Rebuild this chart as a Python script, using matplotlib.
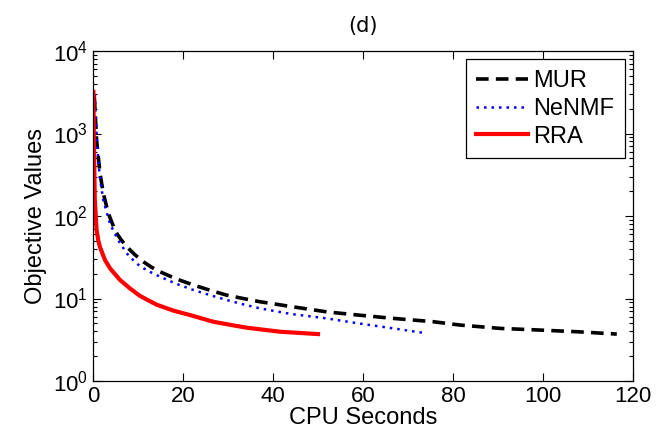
import matplotlib.pyplot as plt
from matplotlib.ticker import LogLocator, LogFormatterMathtext, NullFormatter

plt.rcParams['font.family'] = ['Liberation Sans', 'DejaVu Sans']
plt.rcParams['mathtext.fontset'] = 'custom'
plt.rcParams['mathtext.rm'] = 'Liberation Sans'
plt.rcParams['mathtext.it'] = 'Liberation Sans'

# Objective value vs. CPU time for each solver
mur_t = [0.3, 0.8, 1.56, 2.3, 3.4, 5, 6.2, 7.5, 9.3, 11.2, 13, 14.9, 18.5, 22.3, 26, 29.7,
         33.4, 37.1, 44, 51.9, 59, 66.7, 75.6, 81.6, 90.4, 99.3, 108, 116.4]
mur_obj = [2800, 830, 330, 188, 108, 65, 52, 42.5, 34, 27.9, 24, 21.1, 17.3, 14.6, 12.6, 11.0,
           10.0, 9.15, 8.0, 6.9, 6.3, 5.75, 5.24, 4.77, 4.35, 4.15, 3.95, 3.71]

nenmf_t = [0.4, 0.9, 1.5, 2.3, 3.8, 5.5, 7.5, 9, 10.5, 12.7, 14.9, 18.5, 22.3, 26, 29.7,
           33.4, 37.1, 44, 51.9, 59, 66.7, 74.1]
nenmf_obj = [3000, 750, 300, 155, 80, 52, 35.3, 29, 24.5, 21, 18.4, 15.1, 12.7, 11, 9.6,
             8.5, 7.6, 6.5, 5.75, 5.0, 4.35, 3.79]

rra_t = [0.1, 0.2, 0.4, 0.8, 1.2, 1.56, 2.67, 3.8, 6.0, 8.2, 10.4, 12.3, 14.2, 18, 21.6,
         26.7, 30.5, 34.2, 41.6, 50]
rra_obj = [3200, 800, 160, 68, 50, 42, 29.3, 23.2, 16.8, 13.3, 10.8, 9.5, 8.4, 7.1, 6.3,
           5.24, 4.8, 4.43, 3.96, 3.71]

fig = plt.figure(figsize=(6.58, 4.38), dpi=100)
ax = fig.add_axes([0.1413, 0.130, 0.8207, 0.7536])

ax.semilogy(mur_t, mur_obj, color='black', lw=2.6, ls=(0, (3.5, 2)), label='MUR')
ax.semilogy(nenmf_t, nenmf_obj, color='blue', lw=1.8, ls=(0, (1, 2)), label='NeNMF')
ax.semilogy(rra_t, rra_obj, color='red', lw=3, label='RRA')

ax.set_xlim(0, 120)
ax.set_ylim(1, 1e4)
ax.set_xticks([0, 20, 40, 60, 80, 100, 120])
ax.yaxis.set_major_locator(LogLocator(base=10, numticks=10))
ax.yaxis.set_major_formatter(LogFormatterMathtext())
ax.yaxis.set_minor_locator(LogLocator(base=10, subs=range(2, 10), numticks=10))
ax.yaxis.set_minor_formatter(NullFormatter())

ax.tick_params(which='both', direction='in', top=True, right=True, labelsize=16)
ax.tick_params(which='major', length=6, width=0.8)
ax.tick_params(which='minor', length=3, width=0.8)
for s in ax.spines.values():
    s.set_linewidth(0.9)

ax.set_xlabel('CPU Seconds', fontsize=17, labelpad=0)
ax.set_ylabel('Objective Values', fontsize=17, labelpad=4)
ax.set_title('(d)', fontsize=15, family='DejaVu Sans', pad=14)

leg = ax.legend(loc='upper right', fontsize=17, fancybox=False, framealpha=1,
                edgecolor='black', handlelength=2.2, handletextpad=0.2,
                borderpad=0.45, labelspacing=0.25, borderaxespad=0.35)
leg.get_frame().set_linewidth(0.9)

plt.savefig('out.png', dpi=100)
